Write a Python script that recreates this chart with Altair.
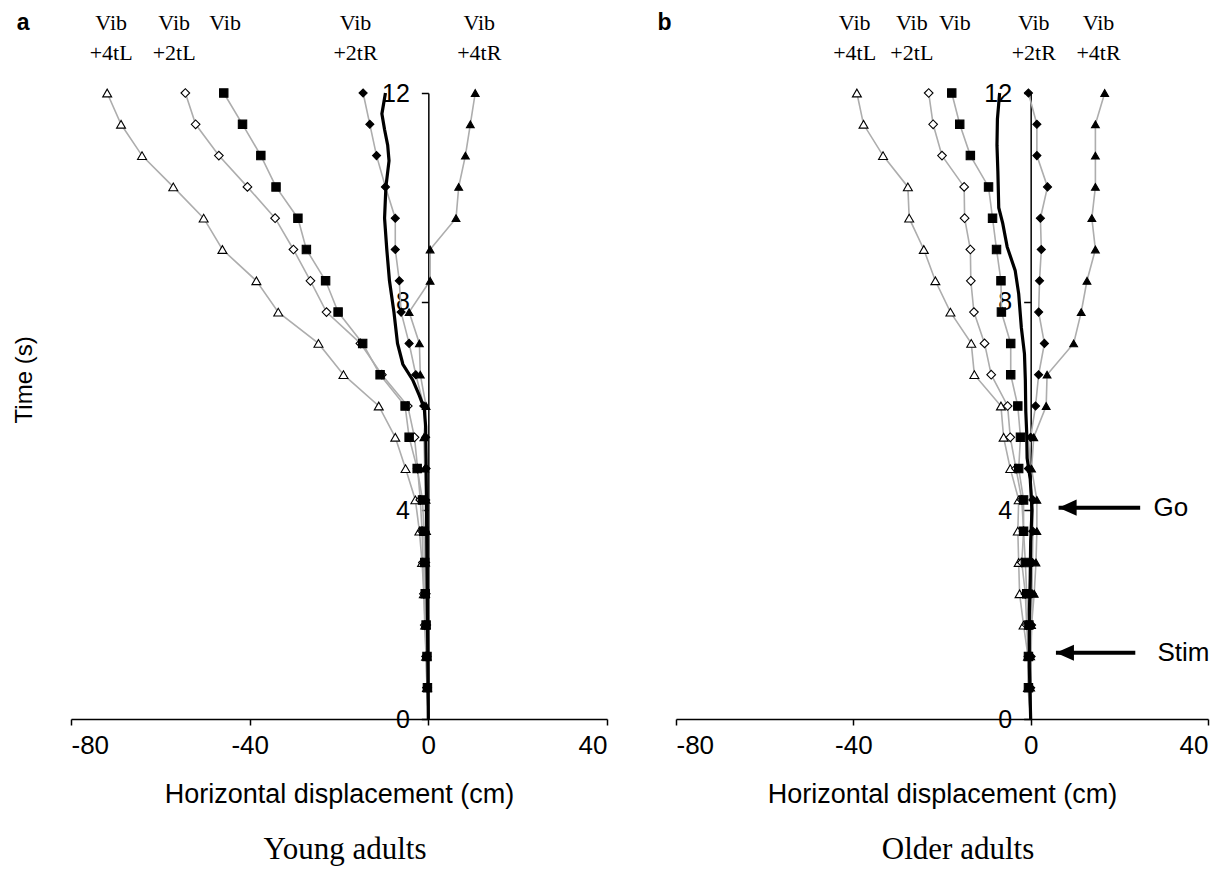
import altair as alt
import pandas as pd

# ---------------- data ----------------
TIME = [0.0, 0.6, 1.2, 1.8, 2.4, 3.0, 3.6, 4.2, 4.8, 5.4, 6.0,
        6.6, 7.2, 7.8, 8.4, 9.0, 9.6, 10.2, 10.8, 11.4, 12.0]
SERIES = ["+4tL", "+2tL", "Vib", "+2tR", "+4tR"]
SHAPES = ["triangle-up", "diamond", "square", "diamond", "triangle-up"]
FILLS = ["white", "white", "black", "black", "black"]
SIZES = [80, 60, 60, 70, 95]

# Young adults (panel a)
A_4TL = [0.0, -0.3, -0.5, -0.7, -1.0, -1.4, -2.0, -2.9, -5.1, -7.4, -11.1,
         -19.0, -24.6, -33.6, -38.5, -46.1, -50.3, -57.1, -64.1, -68.8, -71.9]
A_2TL = [0.0, -0.3, -0.5, -0.8, -1.0, -1.2, -1.4, -1.8, -2.4, -3.1, -4.6,
         -10.4, -15.2, -22.8, -26.4, -30.2, -34.3, -40.5, -46.9, -52.1, -54.4]
A_VIB = [0.0, -0.2, -0.3, -0.5, -0.7, -0.8, -1.0, -1.3, -2.5, -4.3, -5.2,
         -10.8, -14.7, -20.2, -23.0, -27.3, -29.2, -34.1, -37.5, -41.6, -45.8]
A_2TR = [0.0, -0.2, -0.3, -0.4, -0.5, -0.6, -0.7, -0.6, -0.5, -0.6, -1.0,
         -2.8, -4.3, -6.1, -6.5, -7.4, -7.4, -9.6, -11.6, -13.1, -14.6]
A_4TR = [0.0, -0.2, -0.3, -0.5, -0.6, -0.6, -0.4, -0.5, -0.8, -1.0, -0.5,
         -1.8, -2.0, -4.3, 0.4, 0.4, 6.2, 6.8, 8.3, 9.4, 10.5]
A_MEAN_T = [0.0, 1.0, 2.0, 3.0, 4.0, 5.0, 5.6, 5.95, 6.2, 6.5, 6.8,
            7.2, 7.8, 8.4, 9.0, 9.6, 10.2, 10.7, 11.0, 11.3, 11.6, 12.0]
A_MEAN_X = [0.0, -0.1, -0.2, -0.3, -0.4, -0.5, -0.6, -0.9, -2.0, -3.5, -5.7,
            -6.9, -7.7, -8.7, -9.3, -9.8, -9.5, -8.8, -9.1, -9.8, -10.4, -9.6]

# Older adults (panel b)
B_4TL = [0.0, -0.6, -0.6, -1.6, -2.5, -2.7, -2.9, -2.7, -4.6, -6.1, -6.7,
         -12.7, -13.4, -18.1, -21.5, -24.1, -27.4, -27.7, -33.3, -37.7, -39.2]
B_2TL = [0.0, -0.3, -0.5, -0.9, -1.2, -2.0, -1.6, -2.0, -3.3, -4.6, -5.2,
         -8.9, -10.4, -12.8, -13.5, -13.6, -14.9, -15.0, -20.0, -22.0, -23.0]
B_VIB = [0.0, -0.5, -0.5, -0.4, -0.9, -1.2, -1.6, -1.6, -2.7, -2.3, -2.9,
         -4.5, -4.5, -6.6, -6.7, -7.7, -8.6, -9.5, -13.6, -16.0, -17.8]
B_2TR = [0.0, 0.0, 0.1, 0.2, 0.3, 0.4, 0.5, 0.5, -0.5, 0.0, 1.1,
         1.8, 3.1, 1.8, 2.0, 2.4, 2.2, 3.8, 1.4, 1.4, -0.5]
B_4TR = [0.0, 0.0, 0.0, 0.2, 0.8, 1.2, 1.4, 1.4, 0.2, 0.7, 3.5,
         3.7, 9.7, 11.4, 12.7, 14.6, 13.8, 14.6, 14.6, 14.6, 16.7]
B_MEAN_T = [0.0, 1.0, 2.0, 2.7, 3.4, 4.0, 4.6, 5.0, 5.5, 5.9, 6.5, 7.0,
            7.5, 8.15, 8.6, 9.05, 9.5, 9.8, 10.5, 11.0, 11.5, 11.8, 12.0]
B_MEAN_X = [0.0, -0.3, -0.3, -0.1, 0.0, 0.3, -0.1, -0.8, -0.9, -1.1, -1.2, -1.4,
            -2.1, -2.7, -3.5, -5.3, -6.3, -7.2, -7.4, -7.6, -7.5, -7.2, -7.0]

# condition labels above the traces
LABEL_TOP = ["Vib", "Vib", "Vib", "Vib", "Vib"]
LABEL_BOTTOM = ["+4tL", "+2tL", "", "+2tR", "+4tR"]
A_LABEL_X = [-71.0, -56.9, -45.5, -16.3, 11.4]
B_LABEL_X = [-39.7, -26.8, -17.1, 0.7, 15.3]
LABEL_T_TOP = 13.35
LABEL_T_BOTTOM = 12.77

# event arrows (panel b)
ARROW_TEXT = ["Go", "Stim"]
ARROW_T = [4.05, 1.27]
ARROW_TIP = [6.3, 5.7]
ARROW_TAIL = [24.7, 23.6]
ARROW_TEXT_X = [27.7, 28.6]

X_TICKS = [-80, -40, 0, 40]
Y_TICKS = [0, 4, 8, 12]
X_DOMAIN = [-80, 40]
Y_DOMAIN = [0, 12]

# ---------------- styling ----------------
SANS = "Liberation Sans, Arial, sans-serif"
SERIF = "Liberation Serif, Times New Roman, serif"
W_A, W_B, H = 536, 532, 626


def enc_x():
    return alt.X(
        "x:Q",
        scale=alt.Scale(domain=X_DOMAIN, nice=False, zero=False),
        axis=alt.Axis(
            values=X_TICKS, title="Horizontal displacement (cm)",
            labelExpr="datum.value", grid=False,
            domainColor="black", domainWidth=1.5, tickColor="black",
            tickWidth=1.5, tickSize=6, labelFont=SANS, labelFontSize=26,
            labelColor="black", labelPadding=7, titleFont=SANS,
            titleFontSize=27, titleFontWeight="normal", titleColor="black",
            titlePadding=23,
        ),
    )


def enc_y(width):
    off = -width * (0 - X_DOMAIN[0]) / (X_DOMAIN[1] - X_DOMAIN[0])
    return alt.Y(
        "t:Q",
        scale=alt.Scale(domain=Y_DOMAIN, nice=False, zero=False),
        axis=alt.Axis(
            values=Y_TICKS, title=None, offset=off, grid=False,
            domainColor="black", domainWidth=1.5, tickColor="black",
            tickWidth=1.5, tickSize=7, labelFont=SANS, labelFontSize=25,
            labelColor="black", labelPadding=12,
        ),
    )


def panel(vals, mean_t, mean_x, label_x, letter, letter_x, width, title,
          title_dx, ytitle, arrows):
    X = enc_x()
    Y = enc_y(width)
    rows = []
    for name, series in zip(SERIES, vals):
        for t, v in zip(TIME, series):
            rows.append({"series": name, "t": t, "x": v})
    df = pd.DataFrame(rows)

    lines = alt.Chart(df).mark_line(color="#adadad", strokeWidth=1.6).encode(
        x=X, y=Y, detail="series:N", order="t:Q")

    mean = alt.Chart(pd.DataFrame({"t": mean_t, "x": mean_x})).mark_line(
        color="black", strokeWidth=3.2).encode(x=X, y=Y, order="t:Q")

    points = alt.Chart(df).transform_filter("datum.t > 0").mark_point(
        filled=True, stroke="black", strokeWidth=1.1, opacity=1).encode(
        x=X, y=Y,
        shape=alt.Shape("series:N", scale=alt.Scale(domain=SERIES, range=SHAPES), legend=None),
        fill=alt.Fill("series:N", scale=alt.Scale(domain=SERIES, range=FILLS), legend=None),
        size=alt.Size("series:N", scale=alt.Scale(domain=SERIES, range=SIZES), legend=None),
    )

    lab = pd.DataFrame({"x": label_x, "top": LABEL_TOP, "bottom": LABEL_BOTTOM,
                        "t1": [LABEL_T_TOP] * len(label_x),
                        "t2": [LABEL_T_BOTTOM] * len(label_x)})
    lab1 = alt.Chart(lab).mark_text(font=SERIF, fontSize=22, color="black",
                                    baseline="middle", align="center").encode(
        x=X, y=alt.Y("t1:Q", scale=alt.Scale(domain=Y_DOMAIN, nice=False)), text="top:N")
    lab2 = alt.Chart(lab).mark_text(font=SERIF, fontSize=22, color="black",
                                    baseline="middle", align="center").encode(
        x=X, y=alt.Y("t2:Q", scale=alt.Scale(domain=Y_DOMAIN, nice=False)), text="bottom:N")

    let = alt.Chart(pd.DataFrame({"x": [letter_x], "t": [LABEL_T_TOP], "s": [letter]})).mark_text(
        font=SANS, fontSize=23, fontWeight="bold", color="black",
        baseline="middle", align="center").encode(x=X, y=Y, text="s:N")

    layers = [lines, mean, points, lab1, lab2, let]

    if ytitle:
        yt = alt.Chart(pd.DataFrame({"x": [-90.2], "t": [6.5], "s": ["Time (s)"]})).mark_text(
            font=SANS, fontSize=24, color="black", angle=270,
            baseline="middle", align="center").encode(x=X, y=Y, text="s:N")
        layers.append(yt)

    if arrows:
        adf = pd.DataFrame({"s": ARROW_TEXT, "t": ARROW_T, "x": ARROW_TIP,
                            "x2": ARROW_TAIL, "xt": ARROW_TEXT_X})
        shaft = alt.Chart(adf).mark_rule(color="black", strokeWidth=4).encode(
            x=X, x2="x2:Q", y=Y)
        head = alt.Chart(adf).mark_point(
            shape="M0,0L1,-0.45L1,0.45Z", filled=True, color="black",
            size=1300, opacity=1).encode(x=X, y=Y)
        txt = alt.Chart(adf).mark_text(font=SANS, fontSize=26, color="black",
                                       align="left", baseline="middle").encode(
            x=alt.X("xt:Q", scale=alt.Scale(domain=X_DOMAIN, nice=False, zero=False)),
            y=Y, text="s:N")
        layers += [shaft, head, txt]

    return alt.layer(*layers).properties(
        width=width, height=H,
        title=alt.TitleParams(title, orient="bottom", font=SERIF, fontSize=31,
                              fontWeight="normal", color="black", frame="group",
                              offset=28, dx=title_dx),
    )


pa = panel([A_4TL, A_2TL, A_VIB, A_2TR, A_4TR], A_MEAN_T, A_MEAN_X, A_LABEL_X,
           "a", -90.7, W_A, "Young adults", 6, True, False)
pb = panel([B_4TL, B_2TL, B_VIB, B_2TR, B_4TR], B_MEAN_T, B_MEAN_X, B_LABEL_X,
           "b", -82.6, W_B, "Older adults", 16, False, True)

chart = alt.hconcat(pa, pb, spacing=69, bounds="flush").properties(
    padding={"left": 5, "top": 3, "right": 5, "bottom": 5},
    background="white",
).configure_view(stroke=None)

chart.save("out.html", embed_options={"renderer": "svg", "actions": False})
